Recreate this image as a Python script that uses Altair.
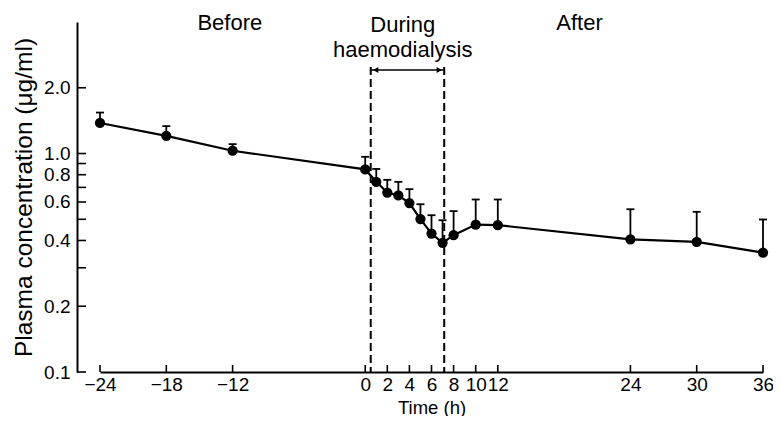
import altair as alt
import pandas as pd

# ---- data ----
times = [-24, -18, -12, 0, 1, 2, 3, 4, 5, 6, 7, 8, 10, 12, 24, 30, 36]
means = [1.38, 1.205, 1.03, 0.846, 0.742, 0.663, 0.643, 0.593, 0.501, 0.430,
         0.390, 0.423, 0.473, 0.470, 0.405, 0.394, 0.352]
uppers = [1.54, 1.335, 1.104, 0.966, 0.85, 0.758, 0.742, 0.687, 0.586, 0.522,
          0.495, 0.545, 0.616, 0.616, 0.556, 0.541, 0.499]

x_ticks = [-24, -18, -12, 0, 2, 4, 6, 8, 10, 12, 24, 30, 36]
y_ticks = [0.1, 0.2, 0.3, 0.4, 0.5, 0.6, 0.7, 0.8, 0.9, 1.0, 2.0]
y_labelled = [0.1, 0.2, 0.4, 0.6, 0.8, 1.0, 2.0]
y_label_text = ["0.1", "0.2", "0.4", "0.6", "0.8", "1.0", "2.0"]

dialysis = [0.5, 7.15]
phase_text = ["Before", "During", "haemodialysis", "After"]
phase_x = [-12.25, 3.4, 3.4, 19.4]
phase_y = [8, 9.7, 34.7, 8]

W, H = 663, 350
FONT = "Liberation Sans"

df = pd.DataFrame({"t": times, "m": means, "u": uppers})

xs = alt.Scale(domain=[-24, 36], nice=False, zero=False)
ys = alt.Scale(type="log", domain=[0.1, 4.0], nice=False)

label_expr = "".join(
    f"datum.value == {v} ? '{s}' : " for v, s in zip(y_labelled, y_label_text)
) + "''"

x_axis = alt.Axis(values=x_ticks, title="Time (h)", ticks=False, tickSize=0,
                  grid=False, format="d", labelFont=FONT, labelFontSize=19,
                  labelColor="black", labelPadding=3, titleFont=FONT,
                  titleFontSize=18.5, titleFontWeight="normal", titleColor="black",
                  titlePadding=4, domainColor="black", domainWidth=2,
                  labelFlush=False, labelOverlap=False)
y_axis = alt.Axis(values=y_ticks, title="Plasma concentration (μg/ml)",
                  ticks=False, tickSize=0, grid=False, labelExpr=label_expr,
                  labelFont=FONT, labelFontSize=19, labelColor="black",
                  labelPadding=7, titleFont=FONT, titleFontSize=24.5,
                  titleFontWeight="normal", titleColor="black", titlePadding=7,
                  domainColor="black", domainWidth=2, offset=23,
                  labelFlush=False, labelOverlap=False)


def X(field):
    return alt.X(field, type="quantitative", scale=xs, axis=x_axis)


def Y(field):
    return alt.Y(field, type="quantitative", scale=ys, axis=y_axis)


base = alt.Chart(df)
line = base.mark_line(color="black", strokeWidth=2.2).encode(x=X("t"), y=Y("m"))
err = base.mark_rule(color="black", strokeWidth=1.8).encode(
    x=X("t"), y=Y("m"), y2="u")
caps = base.mark_tick(color="black", orient="horizontal", size=8,
                      thickness=1.8, opacity=1).encode(x=X("t"), y=Y("u"))
pts = base.mark_circle(color="black", size=105, opacity=1).encode(
    x=X("t"), y=Y("m"))

ytick_df = pd.DataFrame({"m": y_ticks})
yticks = alt.Chart(ytick_df).mark_rule(color="black", strokeWidth=1.6).encode(
    y=Y("m"), x=alt.value(-23), x2=alt.value(-14))

xtick_df = pd.DataFrame({"t": x_ticks})
xticks = alt.Chart(xtick_df).mark_rule(color="black", strokeWidth=1.6).encode(
    x=X("t"), y=alt.value(H), y2=alt.value(H - 7))

dash_df = pd.DataFrame({"t": dialysis})
dashes = alt.Chart(dash_df).mark_rule(color="black", strokeWidth=2,
                                      strokeDash=[8, 4]).encode(
    x=X("t"), y=alt.value(45), y2=alt.value(H))

arrow_df = pd.DataFrame({"t": [dialysis[0]], "t2": [dialysis[1]]})
arrow = alt.Chart(arrow_df).mark_rule(color="black", strokeWidth=1.6).encode(
    x=X("t"), x2="t2", y=alt.value(48))
headL = alt.Chart(pd.DataFrame({"t": [dialysis[0]]})).mark_point(
    shape="triangle-left", filled=True, color="black", size=35, xOffset=5,
    opacity=1).encode(x=X("t"), y=alt.value(48))
headR = alt.Chart(pd.DataFrame({"t": [dialysis[1]]})).mark_point(
    shape="triangle-right", filled=True, color="black", size=35, xOffset=-5,
    opacity=1).encode(x=X("t"), y=alt.value(48))

text_df = pd.DataFrame({"t": phase_x, "py": phase_y, "label": phase_text})
texts = alt.Chart(text_df).mark_text(font=FONT, fontSize=22, color="black",
                                     align="center",
                                     baseline="alphabetic").encode(
    x=X("t"), y=alt.Y("py:Q", scale=None), text="label:N")

chart = alt.layer(dashes, arrow, headL, headR, line, err, caps, pts,
                  yticks, xticks, texts).properties(
    width=W, height=H,
    autosize=alt.AutoSizeParams(type="none"),
    padding={"left": 92, "top": 14, "right": 10, "bottom": 44},
    background="white",
).configure_view(stroke=None)

chart.save("out.html", embed_options={"renderer": "svg", "actions": False})
